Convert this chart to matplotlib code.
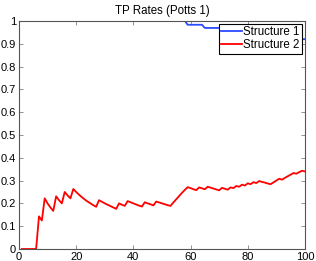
import numpy as np
import matplotlib
matplotlib.use("Agg")
import matplotlib.pyplot as plt

plt.rcParams["font.family"] = ["Liberation Sans", "DejaVu Sans"]

# iteration index
steps = list(range(1, 101))

# Structure 1 TP rate (blue)
structure_1 = (
    [1.0] * 58
    + [0.983] * 6
    + [0.969] * 6
    + [0.958] * 5
    + [0.947] * 5
    + [0.94] * 5
    + [0.933] * 5
    + [0.927] * 5
    + [0.92] * 5
)

# Structure 2 TP rate (red)
structure_2 = [
    0, 0, 0, 0, 0, 0, 0.143, 0.125, 0.222, 0.2,
    0.182, 0.167, 0.231, 0.214, 0.2, 0.25, 0.235, 0.222, 0.263, 0.25,
    0.238, 0.227, 0.217, 0.208, 0.2, 0.192, 0.185, 0.214, 0.207, 0.2,
    0.194, 0.188, 0.182, 0.176, 0.2, 0.194, 0.189, 0.21, 0.205, 0.2,
    0.195, 0.19, 0.186, 0.205, 0.2, 0.196, 0.191, 0.208, 0.204, 0.2,
    0.196, 0.192, 0.189, 0.204, 0.218, 0.232, 0.246, 0.259, 0.271, 0.267,
    0.262, 0.258, 0.27, 0.266, 0.262, 0.273, 0.269, 0.265, 0.261, 0.257,
    0.268, 0.264, 0.26, 0.27, 0.267, 0.276, 0.273, 0.282, 0.278, 0.288,
    0.284, 0.293, 0.289, 0.298, 0.294, 0.291, 0.287, 0.284, 0.292, 0.3,
    0.308, 0.304, 0.312, 0.319, 0.326, 0.333, 0.33, 0.337, 0.343, 0.34,
]

fig = plt.figure(figsize=(3.16, 2.61), dpi=100)
ax = fig.add_axes([0.060, 0.046, 0.905, 0.874])

ax.plot(steps, structure_1, color="#2b4bff", lw=1.3, label="Structure 1")
ax.plot(steps, structure_2, color="#ff0000", lw=1.3, label="Structure 2")

ax.set_xlim(0, 100)
ax.set_ylim(0, 1)
ax.set_xticks(range(0, 101, 20))
ax.set_yticks(np.arange(0, 1.01, 0.1))
ax.set_yticklabels(["0", "0.1", "0.2", "0.3", "0.4", "0.5", "0.6", "0.7", "0.8", "0.9", "1"])
ax.tick_params(direction="in", length=3, width=0.6, color="#808080",
               labelsize=8, pad=2, top=True, right=True)
for s in ax.spines.values():
    s.set_color("#555555")
    s.set_linewidth(0.8)

ax.set_title("TP Rates (Potts 1)", fontsize=8.3, pad=5)

leg = ax.legend(loc="upper right", fontsize=8.3, frameon=True, fancybox=False,
                borderpad=0.2, handlelength=1.8, handletextpad=0.15,
                labelspacing=0.1, borderaxespad=0.25)
leg.get_frame().set_edgecolor("black")
leg.get_frame().set_linewidth(0.8)
leg.get_frame().set_alpha(1)

fig.savefig("out.png", dpi=100)
